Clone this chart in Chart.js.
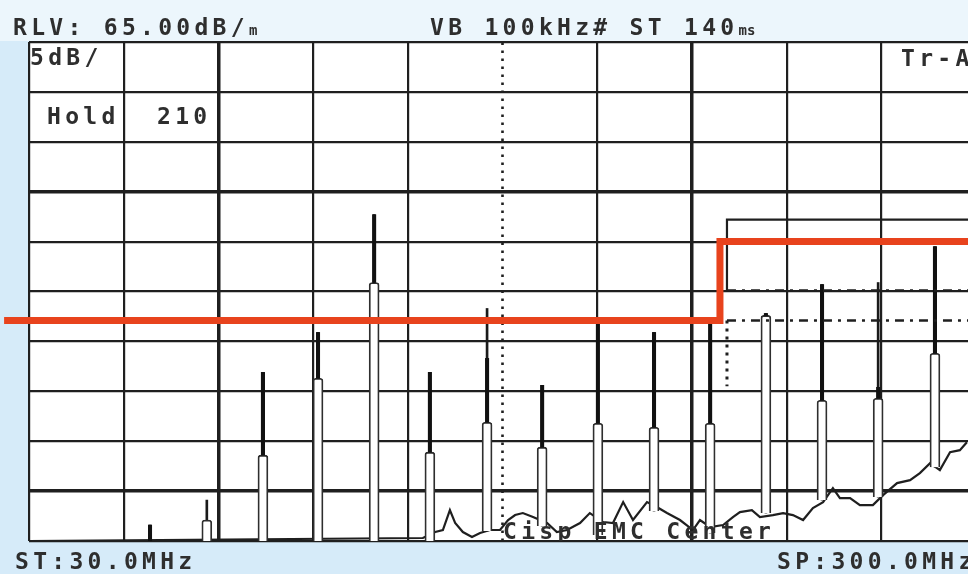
<!DOCTYPE html>
<html><head><meta charset="utf-8">
<script src="https://cdn.jsdelivr.net/npm/chart.js@4"></script>
<style>
html,body{margin:0;padding:0;}
body{width:968px;height:574px;overflow:hidden;background:#d6ebf9;position:relative;font-family:"DejaVu Sans Mono",monospace;}
#top{position:absolute;left:0;top:0;width:968px;height:41px;background:#ecf6fc;}
#wrap{position:absolute;left:0;top:0;width:1000px;height:574px;}
.t{position:absolute;font-size:23px;line-height:23px;letter-spacing:4.3px;color:#2e2e2e;white-space:pre;font-weight:bold;}
.s{font-size:14px;letter-spacing:0;}
#clipT{position:absolute;left:0;top:500px;width:968px;height:41px;overflow:hidden;pointer-events:none;}
</style></head><body>
<div id="top"></div>
<div id="wrap"><canvas id="c" width="1000" height="574"></canvas></div>
<div class="t" style="left:13px;top:16px">RLV: 65.00dB/<span class="s">m</span></div>
<div class="t" style="left:430px;top:16px">VB 100kHz# ST 140<span class="s">ms</span></div>
<div class="t" style="left:30px;top:46px">5dB/</div>
<div class="t" style="left:47px;top:105px">Hold</div>
<div class="t" style="left:157px;top:105px">210</div>
<div class="t" style="left:901px;top:47px">Tr-A</div>
<div class="t" style="left:15px;top:550px">ST:30.0MHz</div>
<div class="t" style="left:777px;top:550px">SP:300.0MHz</div>
<div id="clipT"><div class="t" style="left:503px;top:20px">Cisp EMC Center</div></div>
<script>
// ---- data ----
const xGridMHz = [30, 57, 84, 111, 138, 165, 192, 219, 246, 273, 300];
const yGridDb = [15, 20, 25, 30, 35, 40, 45, 50, 55, 60, 65];

const limitFreq = [22.9, 227, 227, 300];
const limitDb   = [37.1, 37.1, 45.0, 45.0];

const instLimitFreq = [229, 229, 300];
const instLimitDb   = [40.1, 47.2, 47.2];
const dashUpperFreq = [229, 300];
const dashUpperDb   = [40.1, 40.1];
const dashLowerFreq = [229, 300];
const dashLowerDb   = [37.1, 37.1];
const dotVertFreq   = [229, 229];
const dotVertDb     = [37.1, 30.5];
const centerFreq    = [165, 165];
const centerDb      = [15, 65];

const peakFreq     = [64.5, 80.7, 96.7, 112.4, 128.4, 144.3, 160.6, 176.3, 192.2, 208.2, 224.2, 240.1, 256.1, 272.1, 288.3];
const tubeBaseDb   = [15, 15, 15, 15, 15, 15, 16.0, 16.5, 15.6, 18.0, 15.8, 17.8, 19.1, 19.4, 22.4];
const outlineTopDb = [null, 17.1, 23.6, 31.3, 40.9, 23.9, 26.9, 24.4, 26.8, 26.4, 26.8, 37.6, 29.1, 29.3, 33.8];
const thickTopDb   = [16.6, null, 31.9, 35.9, 47.7, 31.9, 33.3, 30.6, 36.8, 35.9, 36.8, 37.8, 40.7, 30.4, 44.5];
const thinTopDb    = [16.6, 19.1, 31.9, 35.9, 47.7, 31.9, 38.3, 30.6, 36.8, 35.9, 36.8, 37.8, 40.7, 40.9, 44.5];

const noiseFreq = [30, 142.3, 145.8, 148.0, 150.0, 151.5, 153.7, 156.3, 158.6, 161.4, 164.3, 166.6, 168.6, 170.8, 173.7, 177.7, 180.5, 183.4, 187.1, 189.9, 193.7, 196.5, 199.4, 202.2, 206.2, 209.0, 211.9, 215.6, 219.3, 221.3, 224.2, 227.9, 230.7, 232.7, 236.1, 238.4, 242.1, 245.0, 247.8, 250.7, 253.5, 256.4, 259.2, 261.2, 264.1, 266.9, 270.6, 273.5, 277.5, 281.2, 284.0, 286.9, 289.7, 292.6, 295.4, 297.4];
const noiseDb   = [15, 15.3, 15.9, 16.1, 18.1, 16.8, 15.9, 15.4, 15.8, 16.1, 16.1, 17.1, 17.6, 17.8, 17.4, 16.8, 15.9, 16.1, 16.8, 17.8, 16.9, 16.8, 18.9, 17.1, 18.9, 18.4, 17.8, 17.1, 16.1, 17.1, 16.4, 16.6, 17.4, 17.9, 18.1, 17.4, 17.6, 17.8, 17.6, 17.1, 18.3, 18.9, 20.3, 19.3, 19.3, 18.6, 18.6, 19.6, 20.8, 21.1, 21.8, 22.8, 22.1, 23.9, 24.1, 24.9];

// ---- chart ----
const pts = (xs, ys) => xs.map((x, i) => ({x: x, y: ys[i]}));
const INK = '#1f1f1f';

const lineDs = (xs, ys, o) => Object.assign({
  type: 'line', data: pts(xs, ys), borderColor: INK, borderWidth: 2,
  pointRadius: 0, fill: false, tension: 0
}, o);

const bgPlugin = {
  id: 'plotBg',
  beforeDraw(chart) {
    const a = chart.chartArea, c = chart.ctx;
    c.save(); c.fillStyle = '#ffffff';
    c.fillRect(a.left, a.top, a.right - a.left, a.bottom - a.top);
    c.restore();
  }
};

new Chart(document.getElementById('c'), {
  type: 'bar',
  data: {
    datasets: [
      lineDs(limitFreq, limitDb, {borderColor: '#e8431d', borderWidth: 7, clip: false, order: 0, borderJoinStyle: 'miter'}),
      lineDs(instLimitFreq, instLimitDb, {borderWidth: 2.2, order: 3}),
      lineDs(dashUpperFreq, dashUpperDb, {borderWidth: 2.4, borderDash: [9, 6, 3, 6], order: 3}),
      lineDs(dashLowerFreq, dashLowerDb, {borderWidth: 2.4, borderDash: [9, 6, 3, 6], order: 3}),
      lineDs(dotVertFreq, dotVertDb, {borderWidth: 3, borderDash: [3, 5], order: 3}),
      {
        type: 'bar', order: 4, grouped: false, barThickness: 3.4,
        data: peakFreq.map((f, i) => ({x: f, y: thickTopDb[i] == null ? null : [outlineTopDb[i] == null ? tubeBaseDb[i] : outlineTopDb[i], thickTopDb[i]]})),
        backgroundColor: '#111', borderWidth: 0
      },
      {
        type: 'bar', order: 5, grouped: false, barThickness: 10,
        data: peakFreq.map((f, i) => ({x: f, y: outlineTopDb[i] == null ? null : [tubeBaseDb[i], outlineTopDb[i]]})),
        backgroundColor: '#ffffff', borderColor: '#2e2e2e',
        borderWidth: {top: 1.8, left: 1.8, right: 1.8, bottom: 0}, borderSkipped: 'start',
        borderRadius: {topLeft: 3, topRight: 3, bottomLeft: 0, bottomRight: 0}
      },
      {
        type: 'bar', order: 6, grouped: false, barThickness: 2,
        data: peakFreq.map((f, i) => ({x: f, y: [tubeBaseDb[i], thinTopDb[i]]})),
        backgroundColor: '#1a1a1a', borderWidth: 0
      },
      lineDs(noiseFreq, noiseDb, {borderWidth: 2.2, order: 7, borderJoinStyle: 'miter'}),
      lineDs(centerFreq, centerDb, {borderWidth: 2.6, borderDash: [2.6, 5.4], order: 8})
    ]
  },
  options: {
    responsive: false, animation: false, devicePixelRatio: 1,
    layout: {padding: {left: 29, top: 42, right: 24, bottom: 33}},
    plugins: {legend: {display: false}, tooltip: {enabled: false}},
    scales: {
      x: {
        type: 'linear', min: 30, max: 300, offset: false,
        afterBuildTicks: s => { s.ticks = xGridMHz.map(v => ({value: v})); },
        ticks: {display: false},
        border: {display: false},
        grid: {
          offset: false, drawTicks: false,
          color: c => (c.tick && c.tick.value === 165) ? 'rgba(0,0,0,0)' : INK,
          lineWidth: c => (c.tick && (c.tick.value === 84 || c.tick.value === 219)) ? 3.5 : 2.2
        }
      },
      y: {
        type: 'linear', min: 15, max: 65,
        afterBuildTicks: s => { s.ticks = yGridDb.map(v => ({value: v})); },
        ticks: {display: false},
        border: {display: false},
        grid: {
          drawTicks: false, color: INK,
          lineWidth: c => (c.tick && (c.tick.value === 50 || c.tick.value === 20)) ? 3.5 : 2.2
        }
      }
    }
  },
  plugins: [bgPlugin]
});
</script>
</body></html>
